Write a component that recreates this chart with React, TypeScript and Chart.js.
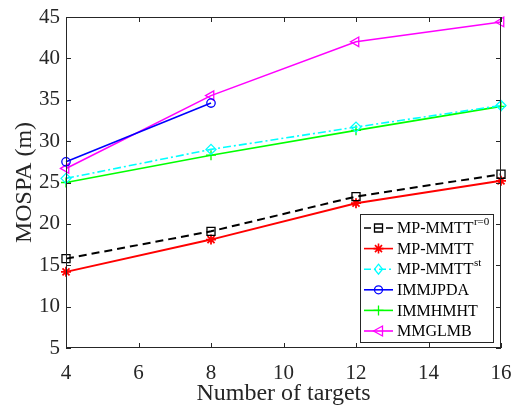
import React, { useEffect, useRef } from "react";
import { Chart, registerables } from "chart.js";

Chart.register(...registerables);

const targets = [4, 8, 12, 16];
const mpMmttR0 = [15.8, 19.1, 23.3, 26.0];
const mpMmtt = [14.2, 18.1, 22.5, 25.2];
const mpMmttSt = [25.5, 29.0, 31.7, 34.3];
const immJpda = [27.5, 34.6];
const immHmht = [25.0, 28.3, 31.3, 34.2];
const mmGlmb = [26.7, 35.5, 42.0, 44.4];

const xTicks = [4, 6, 8, 10, 12, 14, 16];
const yTicks = [5, 10, 15, 20, 25, 30, 35, 40, 45];

const AX = "#262626";
const FONT = "'Liberation Serif', 'Times New Roman', serif";

type Entry = { name: string; sup?: string; color: string; dash: number[]; marker: string };
const legendEntries: Entry[] = [
  { name: "MP-MMTT", sup: "r=0", color: "#000000", dash: [7, 4], marker: "square" },
  { name: "MP-MMTT", color: "#ff0000", dash: [], marker: "star" },
  { name: "MP-MMTT", sup: "st", color: "#00ffff", dash: [7, 3, 2, 3], marker: "diamond" },
  { name: "IMMJPDA", color: "#0000ff", dash: [], marker: "circle" },
  { name: "IMMHMHT", color: "#00ff00", dash: [], marker: "plus" },
  { name: "MMGLMB", color: "#ff00ff", dash: [], marker: "triangle" },
];

function pts(vals: number[]) {
  return vals.map((v, i) => ({ x: targets[i], y: v }));
}

function drawMarker(ctx: CanvasRenderingContext2D, m: string, x: number, y: number, color: string) {
  ctx.save();
  ctx.strokeStyle = color;
  ctx.lineWidth = m === "star" ? 1.6 : 1.3;
  ctx.setLineDash([]);
  ctx.beginPath();
  if (m === "square") {
    ctx.rect(x - 4, y - 4, 8, 8);
  } else if (m === "star") {
    const r = 5;
    ctx.moveTo(x - r, y); ctx.lineTo(x + r, y);
    ctx.moveTo(x, y - r); ctx.lineTo(x, y + r);
    const d = r * Math.SQRT1_2;
    ctx.moveTo(x - d, y - d); ctx.lineTo(x + d, y + d);
    ctx.moveTo(x - d, y + d); ctx.lineTo(x + d, y - d);
  } else if (m === "diamond") {
    ctx.moveTo(x, y - 5); ctx.lineTo(x + 4, y); ctx.lineTo(x, y + 5); ctx.lineTo(x - 4, y); ctx.closePath();
  } else if (m === "circle") {
    ctx.arc(x, y, 4, 0, Math.PI * 2);
  } else if (m === "plus") {
    ctx.moveTo(x - 5, y); ctx.lineTo(x + 5, y);
    ctx.moveTo(x, y - 5); ctx.lineTo(x, y + 5);
  } else if (m === "triangle") {
    ctx.moveTo(x - 5, y); ctx.lineTo(x + 4, y - 5); ctx.lineTo(x + 4, y + 5); ctx.closePath();
  }
  ctx.stroke();
  ctx.restore();
}

const framePlugin = {
  id: "frame",
  afterDraw(chart: any) {
    const { ctx, chartArea } = chart;
    const { left, right, top, bottom } = chartArea;
    const xs = chart.scales.x;
    const ys = chart.scales.y;
    ctx.save();
    ctx.strokeStyle = AX;
    ctx.lineWidth = 1;
    ctx.setLineDash([]);
    ctx.strokeRect(left + 0.5, top + 0.5, right - left - 1, bottom - top - 1);
    const tl = 5;
    ctx.beginPath();
    for (const t of xTicks) {
      const px = Math.round(xs.getPixelForValue(t)) + 0.5;
      ctx.moveTo(px, bottom); ctx.lineTo(px, bottom - tl);
      ctx.moveTo(px, top); ctx.lineTo(px, top + tl);
    }
    for (const t of yTicks) {
      const py = Math.round(ys.getPixelForValue(t)) + 0.5;
      ctx.moveTo(left, py); ctx.lineTo(left + tl, py);
      ctx.moveTo(right, py); ctx.lineTo(right - tl, py);
    }
    ctx.stroke();

    // legend
    const bx = 360, by = 214, bw = 133, bh = 128;
    ctx.fillStyle = "#ffffff";
    ctx.fillRect(bx, by, bw, bh);
    ctx.strokeStyle = AX;
    ctx.lineWidth = 1;
    ctx.strokeRect(bx + 0.5, by + 0.5, bw, bh);
    legendEntries.forEach((e, i) => {
      const y = by + 14 + i * 20.6;
      ctx.save();
      ctx.strokeStyle = e.color;
      ctx.lineWidth = 1.6;
      ctx.setLineDash(e.dash);
      ctx.beginPath();
      ctx.moveTo(364, y);
      ctx.lineTo(393, y);
      ctx.stroke();
      ctx.restore();
      drawMarker(ctx, e.marker, 378.5, y, e.color);
      ctx.fillStyle = "#000000";
      ctx.font = `16px ${FONT}`;
      ctx.textBaseline = "middle";
      ctx.textAlign = "left";
      ctx.fillText(e.name, 397, y + 1);
      if (e.sup) {
        const w = ctx.measureText(e.name).width;
        ctx.font = `11px ${FONT}`;
        ctx.fillText(e.sup, 397 + w + 0.5, y - 6);
      }
    });
    ctx.restore();
  },
};

export default function App() {
  const ref = useRef<HTMLCanvasElement | null>(null);
  useEffect(() => {
    if (!ref.current) return;
    const mk = (label: string, data: number[], color: string, style: string, radius: number, dash: number[], extra: any = {}) => ({
      label,
      data: pts(data),
      borderColor: color,
      backgroundColor: "transparent",
      pointBorderColor: color,
      pointBackgroundColor: "transparent",
      pointStyle: style,
      pointRadius: radius,
      pointBorderWidth: 1.3,
      borderWidth: 1.6,
      borderDash: dash,
      clip: false,
      tension: 0,
      ...extra,
    });
    const chart = new Chart(ref.current, {
      type: "line",
      data: {
        datasets: [
          mk("MP-MMTT r=0", mpMmttR0, "#000000", "rect", 5.7, [8, 5], { borderWidth: 2 }),
          mk("MP-MMTT", mpMmtt, "#ff0000", "star", 5, [], { borderWidth: 2, pointBorderWidth: 1.8 }),
          mk("MP-MMTT st", mpMmttSt, "#00ffff", "rectRot", 5, [8, 3, 2, 3]),
          mk("IMMJPDA", immJpda, "#0000ff", "circle", 4.2, []),
          mk("IMMHMHT", immHmht, "#00ff00", "cross", 5, []),
          mk("MMGLMB", mmGlmb, "#ff00ff", "triangle", 5.5, [], { pointRotation: -90 }),
        ],
      },
      options: {
        responsive: false,
        animation: false,
        layout: { padding: { left: 0, right: 13, top: 17, bottom: 0 } },
        plugins: { legend: { display: false }, tooltip: { enabled: false } },
        scales: {
          x: {
            type: "linear",
            min: 4,
            max: 16,
            afterFit: (s: any) => { s.height = 60; s.paddingRight = 0; s.paddingLeft = 0; },
            afterBuildTicks: (s: any) => { s.ticks = xTicks.map((v) => ({ value: v })); },
            grid: { display: false, drawTicks: false },
            border: { display: false },
            ticks: { color: AX, font: { family: FONT, size: 21 }, padding: 13, maxRotation: 0 },
            title: { display: true, text: "Number of targets", color: AX, font: { family: FONT, size: 24 }, padding: { top: 0, bottom: 0 } },
          },
          y: {
            type: "linear",
            min: 5,
            max: 45,
            afterFit: (s: any) => { s.width = 66; s.paddingTop = 0; s.paddingBottom = 0; },
            afterBuildTicks: (s: any) => { s.ticks = yTicks.map((v) => ({ value: v })); },
            grid: { display: false, drawTicks: false },
            border: { display: false },
            ticks: { color: AX, font: { family: FONT, size: 21 }, padding: 6 },
            title: { display: true, text: "MOSPA (m)", color: AX, font: { family: FONT, size: 24 }, padding: { top: 10, bottom: 0 } },
          },
        },
      },
      plugins: [framePlugin],
    });
    return () => chart.destroy();
  }, []);
  return (
    <div style={{ position: "fixed", left: 0, top: 0, width: 514, height: 405, overflow: "hidden", background: "#fff" }}>
      <canvas ref={ref} width={514} height={408} style={{ display: "block" }} />
    </div>
  );
}
